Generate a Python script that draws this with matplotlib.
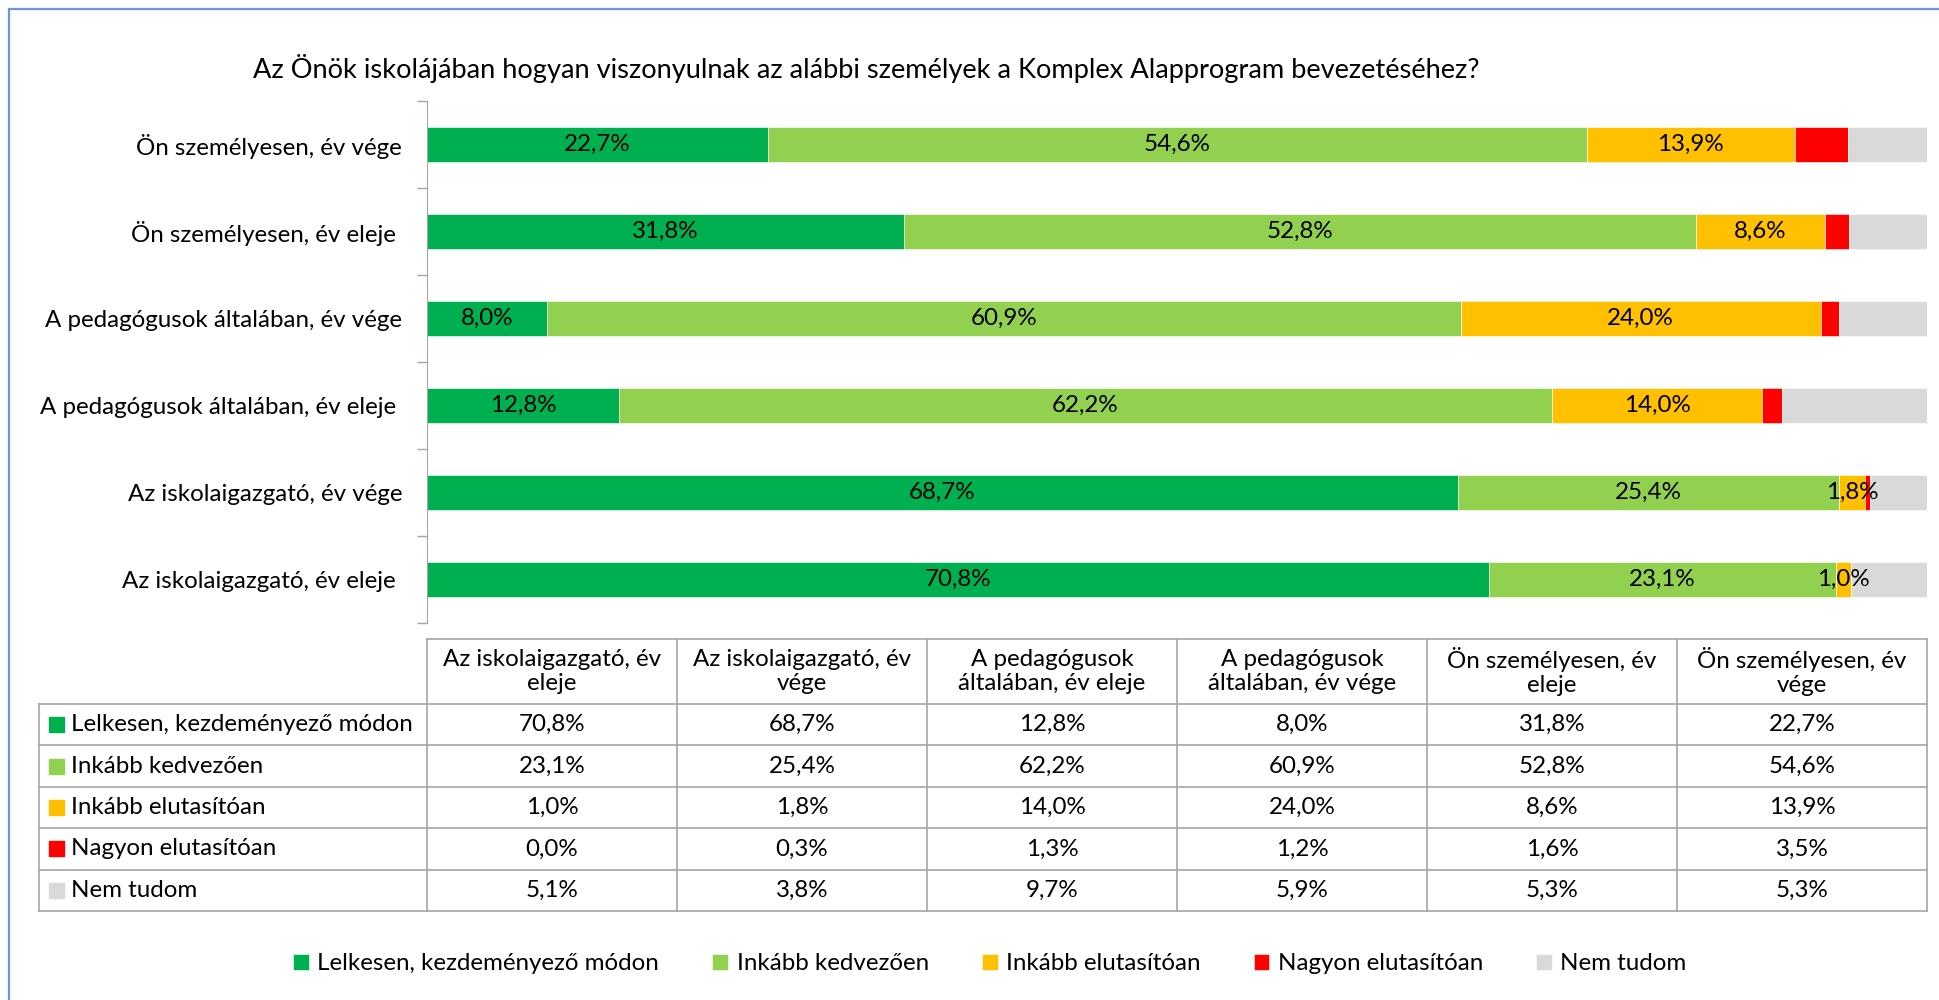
import matplotlib
matplotlib.use("Agg")
import matplotlib.pyplot as plt
from matplotlib.patches import Rectangle

plt.rcParams['font.family'] = ['Lato', 'DejaVu Sans']

# Data (percent), order = bottom to top of the bar chart / left to right in the table
categories = ['Az iskolaigazgató, év eleje ', 'Az iskolaigazgató, év vége',
              'A pedagógusok általában, év eleje ', 'A pedagógusok általában, év vége',
              'Ön személyesen, év eleje ', 'Ön személyesen, év vége']
col_headers = ['Az iskolaigazgató, év\neleje', 'Az iskolaigazgató, év\nvége',
               'A pedagógusok\náltalában, év eleje', 'A pedagógusok\náltalában, év vége',
               'Ön személyesen, év\neleje', 'Ön személyesen, év\nvége']
series_names = ['Lelkesen, kezdeményező módon', 'Inkább kedvezően', 'Inkább elutasítóan',
                'Nagyon elutasítóan', 'Nem tudom']
lelkesen = [70.8, 68.7, 12.8, 8.0, 31.8, 22.7]
kedvezoen = [23.1, 25.4, 62.2, 60.9, 52.8, 54.6]
elutasito = [1.0, 1.8, 14.0, 24.0, 8.6, 13.9]
nagyon = [0.0, 0.3, 1.3, 1.2, 1.6, 3.5]
nem_tudom = [5.1, 3.8, 9.7, 5.9, 5.3, 5.3]
series = [lelkesen, kedvezoen, elutasito, nagyon, nem_tudom]
colors = ['#00B050', '#92D050', '#FFC000', '#FF0000', '#D9D9D9']
title = 'Az Önök iskolájában hogyan viszonyulnak az alábbi személyek a Komplex Alapprogram bevezetéséhez?'

W, H = 1939, 1000
FS = 17.4
GRID = '#A6A6A6'


def fmt(v):
    return ('%.1f%%' % v).replace('.', ',')


def px_rect(x0, y0, x1, y1):
    return [x0 / W, 1 - y1 / H, (x1 - x0) / W, (y1 - y0) / H]


fig = plt.figure(figsize=(W / 100, H / 100), dpi=100)

# chart area border
fig.patches.append(Rectangle((9 / W, -0.05), 1.1, 1 - 9 / H + 0.05, transform=fig.transFigure,
                             fill=False, edgecolor='#6A96DA', lw=1.6))

fig.text(866 / W, 1 - 68 / H, title, ha='center', va='center', fontsize=19.6)

# stacked bars
ax = fig.add_axes(px_rect(427, 101, 1927, 623))
y = list(range(len(categories)))
left = [0.0] * len(categories)
bars = []
for i, (vals, col) in enumerate(zip(series, colors)):
    b = ax.barh(y, vals, left=left, height=0.4, color=col, edgecolor='white', linewidth=0.4)
    bars.append(b)
    if i < 3:
        for yy, l, v in zip(y, left, vals):
            ax.text(l + v / 2, yy, fmt(v), ha='center', va='center', fontsize=FS)
    left = [l + v for l, v in zip(left, vals)]

ax.set_xlim(0, 100)
ax.set_ylim(-0.5, len(categories) - 0.5)
ax.set_yticks(y)
ax.set_yticklabels(categories, fontsize=FS)
ax.set_yticks([i - 0.5 for i in range(len(categories) + 1)], minor=True)
ax.tick_params(axis='y', which='major', length=0, pad=18)
ax.tick_params(axis='y', which='minor', length=7, color=GRID, width=1)
ax.xaxis.set_visible(False)
for s in ['top', 'right', 'bottom']:
    ax.spines[s].set_visible(False)
ax.spines['left'].set_color(GRID)

# data table
tab = fig.add_axes(px_rect(39, 639, 1927, 911))
lab_w = 388 / 250
head_h = 65 / 41.4
n_col = len(categories)
n_row = len(series_names)
tab.set_xlim(-lab_w, n_col)
tab.set_ylim(n_row, -head_h)
tab.axis('off')
lw = 1.2
# horizontal lines
tab.plot([0, n_col], [-head_h, -head_h], color=GRID, lw=lw, clip_on=False)
for r in range(n_row + 1):
    tab.plot([-lab_w, n_col], [r, r], color=GRID, lw=lw, clip_on=False)
# vertical lines
tab.plot([-lab_w, -lab_w], [0, n_row], color=GRID, lw=lw, clip_on=False)
for c in range(n_col + 1):
    tab.plot([c, c], [-head_h, n_row], color=GRID, lw=lw, clip_on=False)

for c, h in enumerate(col_headers):
    tab.text(c + 0.5, -head_h / 2, h, ha='center', va='center', fontsize=FS, linespacing=1.15)
for r, (name, vals, col) in enumerate(zip(series_names, series, colors)):
    tab.add_patch(Rectangle((-lab_w + 0.04, r + 0.32), 0.06, 0.36, color=col))
    tab.text(-lab_w + 0.128, r + 0.5, name, ha='left', va='center', fontsize=FS)
    for c, v in enumerate(vals):
        tab.text(c + 0.5, r + 0.5, fmt(v), ha='center', va='center', fontsize=FS)

# legend
fig.legend([b.patches[0] for b in bars], series_names, loc='center',
           bbox_to_anchor=(990 / W, 1 - 964 / H), ncol=5, frameon=False, fontsize=FS,
           handlelength=0.65, handleheight=0.65, handletextpad=0.35, columnspacing=2.2)

fig.savefig('out.png', dpi=100)
